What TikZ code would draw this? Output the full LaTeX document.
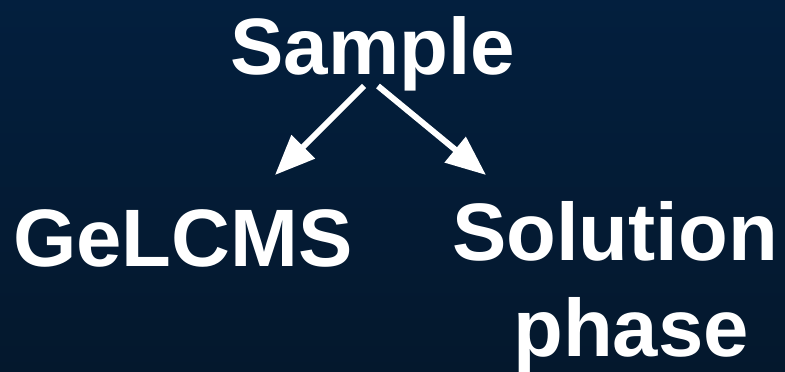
\documentclass[tikz,border=0pt]{standalone}
\usepackage{fontspec}
\setmainfont{Liberation Sans}
\usetikzlibrary{arrows.meta}
\definecolor{bgtop}{RGB}{3,31,62}
\definecolor{bgbot}{RGB}{4,24,45}
\tikzset{
  label text/.style={text=white, inner sep=0pt, anchor=base,
    font=\fontsize{80}{96}\selectfont\bfseries},
  big label/.style={label text, font=\fontsize{81.5}{96}\selectfont\bfseries},
  flow arrow/.style={draw=white, line width=6pt,
    -{Triangle[length=40pt,width=32pt]}},
}
\begin{document}
\begin{tikzpicture}[x=1pt,y=-1pt]
  % background panel
  \shade[top color=bgtop, bottom color=bgbot] (0,0) rectangle (785,372);
  \useasboundingbox (0,0) rectangle (785,372);

  % labels
  \node[label text] (sample) at (372.5,74) {Sample};
  \node[big label] (gel) at (183,266) {GeLCMS};
  \node[big label] (solution) at (615,260) {Solution};
  \node[big label] (phase) at (631,356) {phase};

  % arrow ends
  \coordinate (leftstart) at (364,86);
  \coordinate (lefttip) at (275,175);
  \coordinate (rightstart) at (378,86);
  \coordinate (righttip) at (486,175);

  \draw[flow arrow] (leftstart) -- (lefttip);
  \draw[flow arrow] (rightstart) -- (righttip);
\end{tikzpicture}
\end{document}
